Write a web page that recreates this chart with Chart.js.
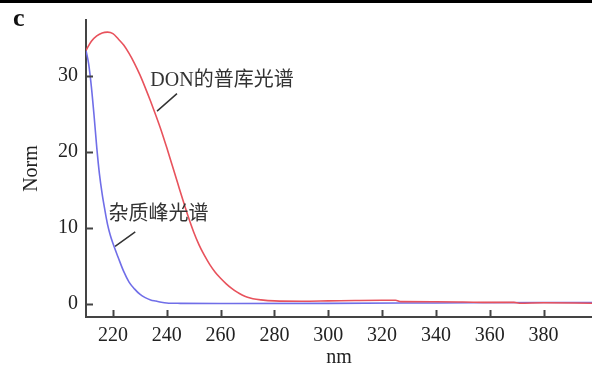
<!DOCTYPE html>
<html>
<head>
<meta charset="utf-8">
<script src="https://cdn.jsdelivr.net/npm/chart.js@4"></script>
<style>
  body { margin: 0; background: #fff; }
</style>
</head>
<body>
<canvas id="spectrumChart" width="592" height="372"></canvas>
<script>
// data
const donNm = [210, 212, 214, 216, 218, 220, 222, 224, 226, 228, 230, 232, 234, 236, 238, 240, 242, 244, 246, 248, 250, 252, 254, 256, 258, 260, 262, 264, 266, 268, 270, 272, 275, 280, 290, 300, 310, 320, 325, 327, 340, 350, 360, 369, 371, 380, 398];
const donValues = [33.4, 34.6, 35.3, 35.7, 35.8, 35.6, 34.9, 34.1, 33.0, 31.7, 30.2, 28.5, 26.7, 24.8, 22.8, 20.6, 18.3, 16.0, 13.7, 11.5, 9.5, 7.8, 6.4, 5.2, 4.2, 3.4, 2.7, 2.1, 1.6, 1.2, 0.9, 0.7, 0.55, 0.42, 0.38, 0.42, 0.47, 0.5, 0.5, 0.32, 0.3, 0.27, 0.22, 0.22, 0.12, 0.17, 0.12];

const impNm = [210, 211, 212, 213, 214, 215, 216, 217, 218, 219, 220, 222, 224, 226, 228, 230, 232, 234, 236, 238, 240, 245, 260, 300, 340, 380, 398];
const impValues = [33.4, 31.6, 28.6, 24.8, 20.6, 17.1, 14.5, 12.4, 10.5, 9.1, 8.0, 6.1, 4.3, 2.9, 2.0, 1.3, 0.85, 0.55, 0.4, 0.25, 0.15, 0.1, 0.08, 0.1, 0.15, 0.2, 0.2];

const xTicks = [220, 240, 260, 280, 300, 320, 340, 360, 380];
const yTicks = [0, 10, 20, 30];

const labelFont = '20px "Liberation Serif", "Noto Sans CJK SC", serif';

const toPoints = (xs, ys) => xs.map((x, i) => ({ x: x, y: ys[i] }));

// inward tick marks, annotations, panel letter
const decorations = {
  id: 'decorations',
  afterDraw(chart) {
    const { ctx, scales: { x, y }, chartArea } = chart;
    ctx.save();
    ctx.fillStyle = '#000';
    ctx.fillRect(0, 0, chart.width, 3);

    ctx.strokeStyle = '#444';
    ctx.lineWidth = 2;
    xTicks.forEach(t => {
      const px = Math.round(x.getPixelForValue(t)) + 0.5;
      ctx.beginPath();
      ctx.moveTo(px, chartArea.bottom);
      ctx.lineTo(px, chartArea.bottom - 7);
      ctx.stroke();
    });
    yTicks.forEach(t => {
      const py = Math.round(y.getPixelForValue(t)) + 0.5;
      ctx.beginPath();
      ctx.moveTo(chartArea.left, py);
      ctx.lineTo(chartArea.left + 7, py);
      ctx.stroke();
    });

    ctx.fillStyle = '#333';
    ctx.font = labelFont;
    ctx.textBaseline = 'middle';
    ctx.textAlign = 'left';
    ctx.fillText('DON的普库光谱', x.getPixelForValue(233.9), y.getPixelForValue(29.4));
    ctx.fillText('杂质峰光谱', x.getPixelForValue(218.4), y.getPixelForValue(11.8));

    ctx.strokeStyle = '#333';
    ctx.lineWidth = 1.5;
    ctx.beginPath();
    ctx.moveTo(x.getPixelForValue(236.4), y.getPixelForValue(25.4));
    ctx.lineTo(x.getPixelForValue(243.8), y.getPixelForValue(27.7));
    ctx.moveTo(x.getPixelForValue(220.8), y.getPixelForValue(7.6));
    ctx.lineTo(x.getPixelForValue(228.3), y.getPixelForValue(9.5));
    ctx.stroke();

    ctx.fillStyle = '#111';
    ctx.font = 'bold 26px "Liberation Serif", serif';
    ctx.textBaseline = 'alphabetic';
    ctx.fillText('c', 13, 26);
    ctx.restore();
  }
};

new Chart(document.getElementById('spectrumChart'), {
  type: 'line',
  data: {
    datasets: [
      {
        label: 'DON',
        data: toPoints(donNm, donValues),
        borderColor: 'rgb(232, 82, 92)',
        borderWidth: 1.6,
        pointRadius: 0,
        cubicInterpolationMode: 'monotone'
      },
      {
        label: 'impurity',
        data: toPoints(impNm, impValues),
        borderColor: 'rgb(112, 110, 232)',
        borderWidth: 1.6,
        pointRadius: 0,
        cubicInterpolationMode: 'monotone'
      }
    ]
  },
  options: {
    responsive: false,
    animation: false,
    layout: { padding: { top: 20, left: 0, right: 0, bottom: 0 } },
    plugins: {
      legend: { display: false },
      tooltip: { enabled: false }
    },
    scales: {
      x: {
        type: 'linear',
        min: 210,
        max: 398,
        grid: { display: false, drawTicks: false },
        border: { display: true, color: '#444', width: 2 },
        ticks: {
          stepSize: 20,
          includeBounds: false,
          padding: 7,
          color: '#222',
          font: { family: '"Liberation Serif", serif', size: 20 },
          maxRotation: 0
        },
        title: {
          display: true,
          text: 'nm',
          color: '#222',
          font: { family: '"Liberation Serif", serif', size: 20 },
          padding: { top: 0, bottom: 2 }
        },
        afterFit(scale) { scale.height = 55; }
      },
      y: {
        min: -1.7,
        max: 37.4,
        grid: { display: false, drawTicks: false },
        border: { display: true, color: '#444', width: 2 },
        ticks: {
          stepSize: 10,
          includeBounds: false,
          padding: 8,
          color: '#222',
          font: { family: '"Liberation Serif", serif', size: 20 }
        },
        title: {
          display: true,
          text: 'Norm',
          color: '#222',
          font: { family: '"Liberation Serif", serif', size: 20 },
          padding: { top: 20, bottom: 0 }
        },
        afterFit(scale) { scale.width = 86; }
      }
    }
  },
  plugins: [decorations]
});
</script>
</body>
</html>
